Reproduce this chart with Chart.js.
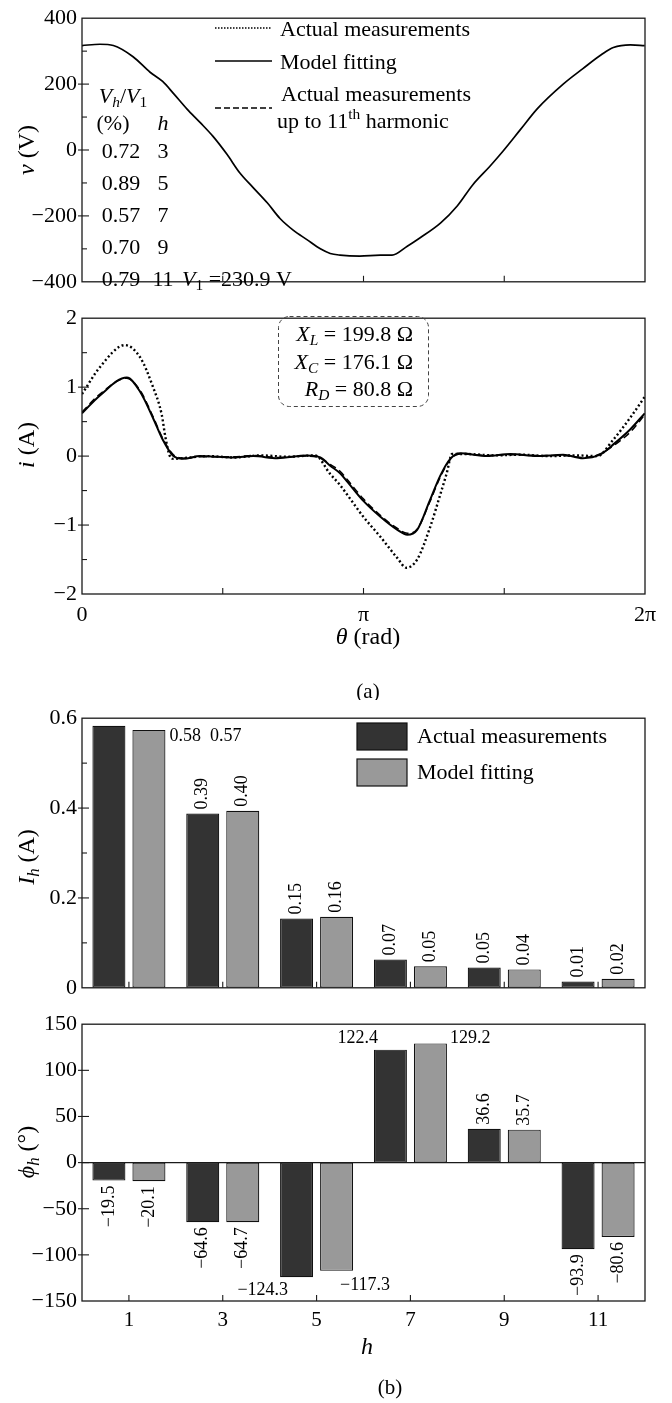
<!DOCTYPE html>
<html><head><meta charset="utf-8">
<script src="https://cdn.jsdelivr.net/npm/chart.js@4.4.0/dist/chart.umd.min.js"></script>
<style>
html,body{margin:0;padding:0;background:#fff;}
body{width:672px;height:1403px;position:relative;overflow:hidden;}
canvas{position:absolute;left:0;}
</style></head><body>
<canvas id="cA" width="672" height="300" style="top:0px"></canvas>
<canvas id="cB" width="672" height="400" style="top:300px"></canvas>
<canvas id="cC" width="672" height="306" style="top:700px"></canvas>
<canvas id="cD" width="672" height="397" style="top:1006px"></canvas>
<script>
// ---------- data ----------
const thetaV = [0, 0.20, 0.35, 0.57, 0.76, 0.90, 1.02, 1.17, 1.32, 1.46, 1.62, 1.76, 1.91, 2.07, 2.21, 2.36, 2.51, 2.66, 2.77, 2.88, 3.10, 3.33, 3.46, 3.63, 3.77, 4.00, 4.19, 4.36, 4.55, 4.70, 4.89, 5.08, 5.37, 5.59, 5.81, 5.93, 6.12, 6.28];
const voltage = [317, 321, 317, 283, 236, 208, 172, 125, 83, 42, -14, -69, -114, -161, -208, -244, -272, -300, -314, -319, -322, -319, -319, -292, -267, -222, -169, -106, -50, -3, 61, 125, 200, 247, 292, 311, 319, 317];

const thetaMeas = [0, 0.20, 0.48, 0.65, 0.79, 0.89, 0.93, 0.98, 1.02, 1.13, 1.40, 1.70, 2.00, 2.30, 2.60, 2.77, 2.88, 2.96, 3.14, 3.33, 3.52, 3.62, 3.74, 3.88, 4.00, 4.07, 4.13, 4.30, 4.60, 4.90, 5.20, 5.50, 5.75, 5.93, 6.12, 6.28];
const currentMeas = [0.90, 1.29, 1.61, 1.43, 1.01, 0.60, 0.28, 0.00, -0.04, -0.03, 0.00, -0.02, 0.01, -0.01, 0.01, -0.26, -0.42, -0.56, -0.88, -1.17, -1.48, -1.62, -1.50, -1.05, -0.55, -0.25, 0.03, 0.03, 0.01, 0.02, 0.00, 0.01, 0.00, 0.24, 0.56, 0.86];

const thetaFit = [0, 0.20, 0.50, 0.65, 0.79, 0.90, 1.02, 1.13, 1.32, 1.69, 1.91, 2.18, 2.51, 2.66, 2.77, 2.88, 2.96, 3.14, 3.33, 3.52, 3.63, 3.74, 3.88, 4.00, 4.11, 4.22, 4.52, 4.78, 5.08, 5.37, 5.59, 5.78, 5.93, 6.12, 6.28];
const currentFit = [0.62, 0.88, 1.14, 0.93, 0.56, 0.24, 0.00, -0.04, 0.00, -0.02, 0.00, -0.03, 0.01, -0.02, -0.14, -0.25, -0.37, -0.65, -0.88, -1.07, -1.14, -1.07, -0.65, -0.28, -0.04, 0.04, 0.00, 0.03, 0.00, 0.02, -0.03, 0.02, 0.17, 0.39, 0.62];
const currentH11 = [0.64, 0.90, 1.13, 0.95, 0.58, 0.26, 0.02, -0.03, -0.01, -0.01, 0.01, -0.02, 0.00, -0.03, -0.12, -0.22, -0.34, -0.62, -0.86, -1.05, -1.12, -1.06, -0.67, -0.30, -0.05, 0.03, 0.01, 0.02, 0.01, 0.01, -0.02, 0.03, 0.15, 0.35, 0.60];

const thetaTickValues = [0, Math.PI / 2, Math.PI, 3 * Math.PI / 2, 2 * Math.PI];
const thetaTickLabels = ['0', '', 'π', '', '2π'];

const vhRatio = ['0.72', '0.89', '0.57', '0.70', '0.79'];
const vhOrder = ['3', '5', '7', '9', '11'];

const harmonics = ['1', '3', '5', '7', '9', '11'];
const ihMeas = [0.583, 0.388, 0.154, 0.063, 0.045, 0.014];
const ihFit = [0.574, 0.394, 0.158, 0.048, 0.041, 0.020];
const ihMeasLabels = ['0.58', '0.39', '0.15', '0.07', '0.05', '0.01'];
const ihFitLabels = ['0.57', '0.40', '0.16', '0.05', '0.04', '0.02'];
const phiMeas = [-19.5, -64.6, -124.3, 122.4, 36.6, -93.9];
const phiFit = [-20.1, -64.7, -117.3, 129.2, 35.7, -80.6];

// ---------- helpers ----------
const FAM = '"Liberation Serif", "Times New Roman", serif';
Chart.defaults.font.family = FAM;
Chart.defaults.color = '#000';
const DARK = '#333333', GRAY = '#999999';

function fmt(v) { return v < 0 ? '\u2212' + Math.abs(v) : String(v); }

function rich(ctx, parts, x, y, align, size) {
  const items = parts.map(([t, f]) => {
    f = f || '';
    const small = f.includes('b') || f.includes('p');
    const sz = small ? size * 0.7 : size;
    const font = (f.includes('i') ? 'italic ' : '') + sz + 'px ' + FAM;
    ctx.font = font;
    return { t, font, w: ctx.measureText(t).width, dy: f.includes('b') ? size * 0.28 : (f.includes('p') ? -size * 0.33 : 0) };
  });
  const total = items.reduce((s, it) => s + it.w, 0);
  let cx = align === 'center' ? x - total / 2 : (align === 'right' ? x - total : x);
  ctx.textAlign = 'left';
  ctx.textBaseline = 'middle';
  ctx.fillStyle = '#000';
  items.forEach(it => { ctx.font = it.font; ctx.fillText(it.t, cx, y + it.dy); cx += it.w; });
}
function richRot(ctx, parts, x, y, size) {
  ctx.save(); ctx.translate(x, y); ctx.rotate(-Math.PI / 2);
  rich(ctx, parts, 0, 0, 'center', size);
  ctx.restore();
}
function seg(ctx, x1, y1, x2, y2) { ctx.beginPath(); ctx.moveTo(x1, y1); ctx.lineTo(x2, y2); ctx.stroke(); }

function drawFrame(chart, zeroLine) {
  const { ctx, chartArea: a, scales } = chart;
  ctx.save();
  ctx.strokeStyle = '#1a1a1a';
  ctx.setLineDash([]);
  if (zeroLine) {
    ctx.lineWidth = 1.3;
    const y0 = scales.y.getPixelForValue(0);
    seg(ctx, a.left, y0, a.right, y0);
  }
  ctx.lineWidth = 1.3;
  ctx.strokeRect(a.left, a.top, a.right - a.left, a.bottom - a.top);
  ctx.lineWidth = 1.1;
  const xs = scales.x, ys = scales.y;
  xs.ticks.forEach((t, i) => {
    const px = xs.getPixelForTick(i);
    if (px <= a.left + 1 || px >= a.right - 1) return;
    seg(ctx, px, a.bottom, px, a.bottom - 6);
  });
  ys.ticks.forEach((t, i) => {
    const py = ys.getPixelForTick(i);
    if (py <= a.top + 1 || py >= a.bottom - 1) return;
    const major = t.label !== '' && t.label !== undefined;
    seg(ctx, a.left - (major ? 4 : 0), py, a.left + (major ? 7 : 5), py);
  });
  ctx.restore();
}

function thetaAxis(showLabels, height) {
  return {
    type: 'linear', min: 0, max: 2 * Math.PI,
    grid: { display: false, drawTicks: false }, border: { display: false },
    ticks: { display: showLabels, autoSkip: false, maxRotation: 0, padding: 8, font: { size: 22 },
      callback: (v, i) => thetaTickLabels[i] },
    afterBuildTicks: s => { s.ticks = thetaTickValues.map(v => ({ value: v })); },
    afterFit: s => { s.height = height; }
  };
}
function yAxis(min, max, step, labelFn) {
  return {
    min, max,
    grid: { display: false, drawTicks: false }, border: { display: false },
    ticks: { stepSize: step, padding: 5, font: { size: 22 }, callback: labelFn },
    afterFit: s => { s.width = 82; }
  };
}
const baseOpts = { responsive: false, animation: false, devicePixelRatio: 1,
  plugins: { legend: { display: false }, tooltip: { enabled: false } } };

// ---------- Panel A: voltage ----------
new Chart(document.getElementById('cA'), {
  type: 'line',
  data: { datasets: [{ data: thetaV.map((t, k) => ({ x: t, y: voltage[k] })), borderColor: '#000', borderWidth: 1.7,
    pointRadius: 0, cubicInterpolationMode: 'monotone', fill: false }] },
  options: Object.assign({}, baseOpts, {
    layout: { padding: { top: 8, right: 27, left: 0, bottom: 0 } },
    scales: {
      x: thetaAxis(false, 4),
      y: yAxis(-400, 400, 100, v => (v % 200 === 0 ? fmt(v) : ''))
    }
  }),
  plugins: [{ id: 'decoA', afterDraw(chart) {
    const ctx = chart.ctx;
    drawFrame(chart, false);
    richRot(ctx, [['v', 'i'], [' (V)', '']], 28, 150, 24);
    // legend
    ctx.save(); ctx.strokeStyle = '#000';
    ctx.lineWidth = 1.4; ctx.setLineDash([1.5, 1.5]); seg(ctx, 215, 28, 272, 28);
    ctx.lineWidth = 1.5; ctx.setLineDash([]); seg(ctx, 215, 61, 272, 61);
    ctx.lineWidth = 1.5; ctx.setLineDash([6, 3]); seg(ctx, 215, 108, 272, 108);
    ctx.restore();
    rich(ctx, [['Actual measurements', '']], 280, 30, 'left', 22);
    rich(ctx, [['Model fitting', '']], 280, 63, 'left', 22);
    rich(ctx, [['Actual measurements', '']], 281, 95, 'left', 22);
    rich(ctx, [['up to 11', ''], ['th', 'p'], [' harmonic', '']], 277, 122, 'left', 22);
    // harmonic table
    rich(ctx, [['V', 'i'], ['h', 'ib'], ['/', ''], ['V', 'i'], ['1', 'b']], 123, 97, 'center', 22);
    rich(ctx, [['(%)', '']], 113, 124, 'center', 22);
    rich(ctx, [['h', 'i']], 163, 124, 'center', 22);
    vhRatio.forEach((r, k) => {
      const y = 152 + k * 32;
      rich(ctx, [[r, '']], 121, y, 'center', 22);
      rich(ctx, [[vhOrder[k], '']], 163, y, 'center', 22);
    });
    rich(ctx, [['V', 'i'], ['1', 'b'], [' =230.9 V', '']], 182, 280, 'left', 22);
  } }]
});

// ---------- Panel B: current ----------
new Chart(document.getElementById('cB'), {
  type: 'line',
  data: { datasets: [
    { data: thetaMeas.map((t, k) => ({ x: t, y: currentMeas[k] })), borderColor: '#000', borderWidth: 2.4,
      borderDash: [2, 2.5], pointRadius: 0, cubicInterpolationMode: 'monotone', fill: false },
    { data: thetaFit.map((t, k) => ({ x: t, y: currentH11[k] })), borderColor: '#000', borderWidth: 1.5,
      borderDash: [7, 4], pointRadius: 0, cubicInterpolationMode: 'monotone', fill: false },
    { data: thetaFit.map((t, k) => ({ x: t, y: currentFit[k] })), borderColor: '#000', borderWidth: 2,
      pointRadius: 0, cubicInterpolationMode: 'monotone', fill: false }
  ] },
  options: Object.assign({}, baseOpts, {
    layout: { padding: { top: 6, right: 27, left: 0, bottom: 0 } },
    scales: {
      x: thetaAxis(true, 106),
      y: yAxis(-2, 2, 0.5, v => (Number.isInteger(v) ? fmt(v) : ''))
    }
  }),
  plugins: [{ id: 'decoB', afterDraw(chart) {
    const ctx = chart.ctx;
    drawFrame(chart, false);
    richRot(ctx, [['i', 'i'], [' (A)', '']], 28, 145, 24);
    // parameter box
    ctx.save(); ctx.strokeStyle = '#444'; ctx.lineWidth = 1; ctx.setLineDash([4, 3]);
    ctx.beginPath(); ctx.roundRect(278.5, 16.5, 150, 90, 11); ctx.stroke(); ctx.restore();
    rich(ctx, [['X', 'i'], ['L', 'ib'], [' = 199.8 Ω', '']], 413, 35, 'right', 22);
    rich(ctx, [['X', 'i'], ['C', 'ib'], [' = 176.1 Ω', '']], 413, 63, 'right', 22);
    rich(ctx, [['R', 'i'], ['D', 'ib'], [' = 80.8 Ω', '']], 413, 90, 'right', 22);
    rich(ctx, [['θ', 'i'], [' (rad)', '']], 368, 338, 'center', 24);
    rich(ctx, [['(a)', '']], 368, 392, 'center', 21);
  } }]
});

// ---------- bar helpers ----------
function barDatasets(a, b) {
  const common = { borderColor: '#111', borderWidth: 1.2, borderSkipped: false, barPercentage: 0.825, categoryPercentage: 0.853 };
  return [
    Object.assign({ label: 'Actual measurements', data: a, backgroundColor: DARK }, common),
    Object.assign({ label: 'Model fitting', data: b, backgroundColor: GRAY }, common)
  ];
}
function catAxis(showLabels, height) {
  return {
    grid: { display: false, drawTicks: false }, border: { display: false },
    ticks: { display: showLabels, autoSkip: false, maxRotation: 0, padding: 7, font: { size: 21 } },
    afterFit: s => { s.height = height; }
  };
}
function rotLabel(ctx, text, x, y, up) {
  ctx.save(); ctx.translate(x, y); ctx.rotate(-Math.PI / 2);
  ctx.font = '18px ' + FAM; ctx.fillStyle = '#000'; ctx.textBaseline = 'middle';
  ctx.textAlign = up ? 'left' : 'right';
  ctx.fillText(text, 0, 0); ctx.restore();
}
function flatLabel(ctx, text, x, y, align) {
  ctx.save(); ctx.font = '18px ' + FAM; ctx.fillStyle = '#000'; ctx.textBaseline = 'middle';
  ctx.textAlign = align; ctx.fillText(text, x, y); ctx.restore();
}

// ---------- Panel C: harmonic magnitudes ----------
new Chart(document.getElementById('cC'), {
  type: 'bar',
  data: { labels: harmonics, datasets: barDatasets(ihMeas, ihFit) },
  options: Object.assign({}, baseOpts, {
    layout: { padding: { top: 16, right: 27, left: 0, bottom: 0 } },
    scales: {
      x: catAxis(false, 3),
      y: yAxis(0, 0.6, 0.1, v => (Math.round(v * 10) % 2 === 0 ? (Math.abs(v) < 1e-9 ? '0' : v.toFixed(1)) : ''))
    }
  }),
  plugins: [{ id: 'decoC', afterDatasetsDraw(chart) {
    const ctx = chart.ctx;
    const m0 = chart.getDatasetMeta(0).data, m1 = chart.getDatasetMeta(1).data;
    harmonics.forEach((h, i) => {
      const e0 = m0[i], e1 = m1[i];
      if (i === 0) {
        const x = e1.x + e1.width / 2 + 4, y = e1.y + 6;
        ctx.font = '18px ' + FAM;
        const w = ctx.measureText(ihMeasLabels[i]).width;
        flatLabel(ctx, ihMeasLabels[i], x, y, 'left');
        flatLabel(ctx, ihFitLabels[i], x + w + 9, y, 'left');
      } else {
        rotLabel(ctx, ihMeasLabels[i], e0.x, e0.y - 4, true);
        rotLabel(ctx, ihFitLabels[i], e1.x, e1.y - 4, true);
      }
    });
  }, afterDraw(chart) {
    const ctx = chart.ctx;
    drawFrame(chart, false);
    richRot(ctx, [['I', 'i'], ['h', 'ib'], [' (A)', '']], 28, 157, 24);
    // legend
    const ds = chart.data.datasets;
    [[23, 37], [59, 73]].forEach(([by, ty], k) => {
      ctx.save(); ctx.fillStyle = ds[k].backgroundColor; ctx.strokeStyle = '#111'; ctx.lineWidth = 1.2;
      ctx.fillRect(357, by, 50, 27); ctx.strokeRect(357, by, 50, 27); ctx.restore();
      rich(ctx, [[ds[k].label, '']], 417, ty, 'left', 22);
    });
  } }]
});

// ---------- Panel D: harmonic phase angles ----------
new Chart(document.getElementById('cD'), {
  type: 'bar',
  data: { labels: harmonics, datasets: barDatasets(phiMeas, phiFit) },
  options: Object.assign({}, baseOpts, {
    layout: { padding: { top: 7, right: 27, left: 0, bottom: 0 } },
    scales: {
      x: catAxis(true, 102),
      y: yAxis(-150, 150, 50, v => fmt(v))
    }
  }),
  plugins: [{ id: 'decoD', afterDatasetsDraw(chart) {
    const ctx = chart.ctx;
    const m0 = chart.getDatasetMeta(0).data, m1 = chart.getDatasetMeta(1).data;
    const lab = v => fmt(v);
    harmonics.forEach((h, i) => {
      const e0 = m0[i], e1 = m1[i];
      if (i === 2) {
        flatLabel(ctx, lab(phiMeas[i]), e0.x - e0.width / 2 + 8, e0.y + 13, 'right');
        flatLabel(ctx, lab(phiFit[i]), e1.x + e1.width / 2 - 13, e1.y + 14, 'left');
      } else if (i === 3) {
        flatLabel(ctx, lab(phiMeas[i]), e0.x - e0.width / 2 + 4, e0.y - 11, 'right');
        flatLabel(ctx, lab(phiFit[i]), e1.x + e1.width / 2 + 3, e1.y - 5, 'left');
      } else {
        [[e0, phiMeas[i]], [e1, phiFit[i]]].forEach(([e, v]) => {
          if (v >= 0) rotLabel(ctx, lab(v), e.x, e.y - 4, true);
          else rotLabel(ctx, lab(v), e.x, e.y + 5, false);
        });
      }
    });
  }, afterDraw(chart) {
    const ctx = chart.ctx;
    drawFrame(chart, true);
    richRot(ctx, [['ϕ', 'i'], ['h', 'ib'], [' (°)', '']], 28, 146, 24);
    rich(ctx, [['h', 'i']], 367, 342, 'center', 24);
    rich(ctx, [['(b)', '']], 390, 382, 'center', 21);
  } }]
});
</script>
</body></html>
